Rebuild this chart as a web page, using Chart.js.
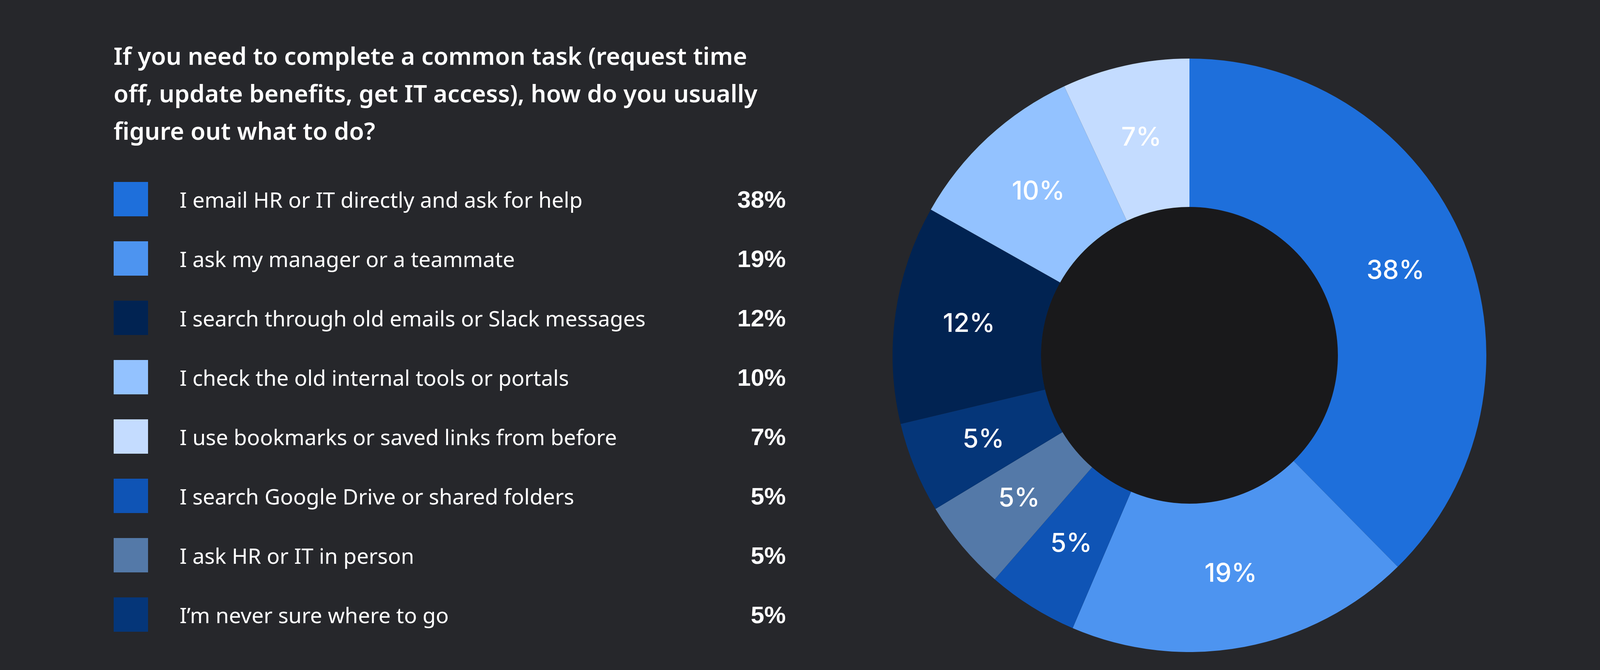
<!DOCTYPE html>
<html>
<head>
<meta charset="utf-8">
<script src="https://cdn.jsdelivr.net/npm/chart.js@4.4.1/dist/chart.umd.min.js"></script>
<style>
  html, body {
    margin: 0;
    padding: 0;
    width: 100vw;
    height: 1716px;
    background: #26272b;
    overflow: hidden;
  }
  /* the free width is shared out like in the 4960 wide original:
     34% left margin, 32% gap, 34% right margin */
  #title {
    position: absolute;
    left: calc((100vw - 3241px) * 0.34);
    top: 94px;
    width: 1900px;
    font-family: "Noto Sans", sans-serif;
    font-weight: 600;
    font-size: 62px;
    line-height: 96px;
    color: #ffffff;
  }
  #legend {
    position: absolute;
    left: calc((100vw - 3241px) * 0.34);
    top: 434px;
    width: 1721px;
  }
  .row {
    display: flex;
    align-items: center;
    height: 152px;
  }
  .swatch {
    width: 88px;
    height: 88px;
    flex: none;
  }
  .label {
    margin-left: 81px;
    flex: 1;
    font-family: "Noto Sans", sans-serif;
    font-size: 55px;
    color: #ffffff;
  }
  .pct {
    font-family: "Liberation Sans", Arial, sans-serif;
    font-weight: 700;
    font-size: 62px;
    color: #ffffff;
    text-align: right;
  }
  #chartBox {
    position: absolute;
    right: calc((100vw - 3241px) * 0.34);
    top: 150px;
    width: 1520px;
    height: 1520px;
  }
</style>
</head>
<body>
<div id="title">If you need to complete a common task (request time<br>off, update benefits, get IT access), how do you usually<br>figure out what to do?</div>
<div id="legend"></div>
<div id="chartBox"><canvas id="donut"></canvas></div>

<script>
// Data, in legend order
const categories = [
  'I email HR or IT directly and ask for help',
  'I ask my manager or a teammate',
  'I search through old emails or Slack messages',
  'I check the old internal tools or portals',
  'I use bookmarks or saved links from before',
  'I search Google Drive or shared folders',
  'I ask HR or IT in person',
  'I\u2019m never sure where to go'
];
const values = [38, 19, 12, 10, 7, 5, 5, 5];
const colors = ['#1e6fdb', '#4d94f0', '#012352', '#93c2ff', '#c4dcff', '#0f54b5', '#5479a8', '#053679'];
// order the slices appear clockwise from the top
const sliceOrder = [0, 1, 5, 6, 7, 2, 3, 4];

// Build the legend
const legend = document.getElementById('legend');
categories.forEach((cat, i) => {
  const row = document.createElement('div');
  row.className = 'row';
  row.innerHTML =
    '<div class="swatch" style="background:' + colors[i] + '"></div>' +
    '<div class="label">' + cat + '</div>' +
    '<div class="pct">' + values[i] + '%</div>';
  legend.appendChild(row);
});

// Dark hole in the middle
const holePlugin = {
  id: 'hole',
  beforeDatasetsDraw(chart) {
    const arc = chart.getDatasetMeta(0).data[0];
    if (!arc) return;
    const ctx = chart.ctx;
    ctx.save();
    ctx.beginPath();
    ctx.arc(arc.x, arc.y, arc.innerRadius, 0, Math.PI * 2);
    ctx.fillStyle = '#19191b';
    ctx.fill();
    ctx.restore();
  }
};

// Percent labels on each slice
const sliceLabels = {
  id: 'sliceLabels',
  afterDatasetsDraw(chart) {
    const ctx = chart.ctx;
    const meta = chart.getDatasetMeta(0);
    ctx.save();
    ctx.fillStyle = '#ffffff';
    ctx.font = '500 66px Inter, sans-serif';
    ctx.textAlign = 'center';
    ctx.textBaseline = 'middle';
    meta.data.forEach((arc, i) => {
      const pos = arc.tooltipPosition();
      ctx.fillText(chart.data.datasets[0].data[i] + '%', pos.x, pos.y);
    });
    ctx.restore();
  }
};

const ctx = document.getElementById('donut').getContext('2d');
const donut = new Chart(ctx, {
  type: 'doughnut',
  data: {
    labels: sliceOrder.map(i => categories[i]),
    datasets: [{
      data: sliceOrder.map(i => values[i]),
      backgroundColor: sliceOrder.map(i => colors[i]),
      borderWidth: 0
    }]
  },
  options: {
    responsive: true,
    maintainAspectRatio: false,
    animation: false,
    cutout: '50%',
    layout: { padding: 0 },
    plugins: {
      legend: { display: false },
      tooltip: { enabled: false }
    }
  },
  plugins: [holePlugin, sliceLabels]
});
</script>
</body>
</html>
